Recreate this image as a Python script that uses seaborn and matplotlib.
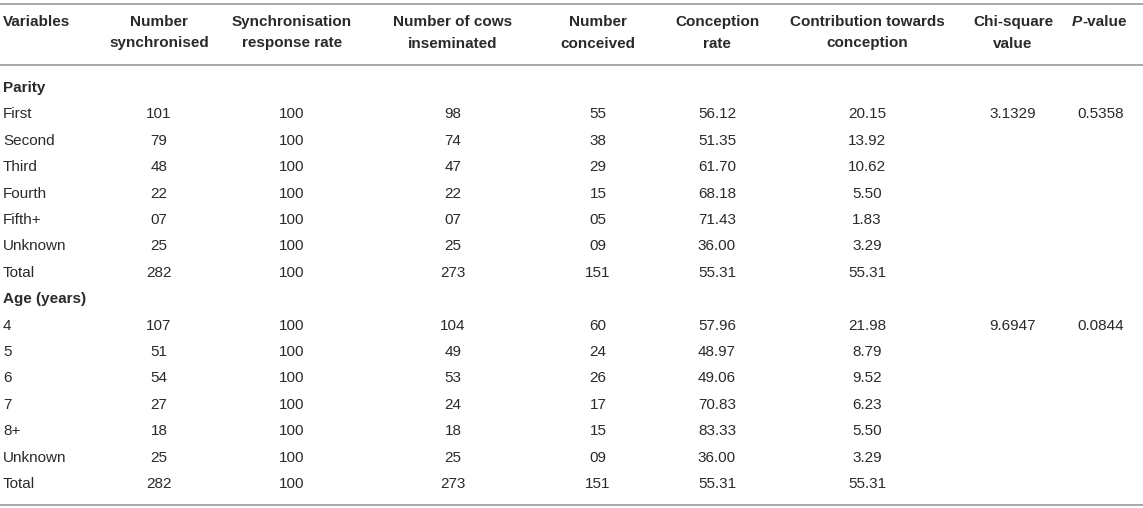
import matplotlib
matplotlib.use("Agg")
import matplotlib.pyplot as plt
import seaborn as sns

# ==============================
# Table data
# ==============================

headers = [
    "Variables",
    "Number\nsynchronised",
    "Synchronisation\nresponse rate",
    "Number of cows\ninseminated",
    "Number\nconceived",
    "Conception\nrate",
    "Contribution towards\nconception",
    "Chi-square\nvalue",
    "P-value",
]

parity_labels = ["First", "Second", "Third", "Fourth", "Fifth+", "Unknown", "Total"]
parity_synchronised = ["101", "79", "48", "22", "07", "25", "282"]
parity_response = ["100", "100", "100", "100", "100", "100", "100"]
parity_inseminated = ["98", "74", "47", "22", "07", "25", "273"]
parity_conceived = ["55", "38", "29", "15", "05", "09", "151"]
parity_conception_rate = ["56.12", "51.35", "61.70", "68.18", "71.43", "36.00", "55.31"]
parity_contribution = ["20.15", "13.92", "10.62", "5.50", "1.83", "3.29", "55.31"]
parity_chi = ["3.1329", "", "", "", "", "", ""]
parity_p = ["0.5358", "", "", "", "", "", ""]

age_labels = ["4", "5", "6", "7", "8+", "Unknown", "Total"]
age_synchronised = ["107", "51", "54", "27", "18", "25", "282"]
age_response = ["100", "100", "100", "100", "100", "100", "100"]
age_inseminated = ["104", "49", "53", "24", "18", "25", "273"]
age_conceived = ["60", "24", "26", "17", "15", "09", "151"]
age_conception_rate = ["57.96", "48.97", "49.06", "70.83", "83.33", "36.00", "55.31"]
age_contribution = ["21.98", "8.79", "9.52", "6.23", "5.50", "3.29", "55.31"]
age_chi = ["9.6947", "", "", "", "", "", ""]
age_p = ["0.0844", "", "", "", "", "", ""]

# ==============================
# Layout
# ==============================

W, H = 1143, 508
col_x = [3, 159, 292, 453, 598, 717, 867, 1013, 1101]
row_step = 26.4
text_color = "#2a2a2a"
line_color = "#a8a8a8"
fs = 11

sns.set_theme(style="white")
plt.rcParams["font.family"] = ["Liberation Sans", "DejaVu Sans"]

fig = plt.figure(figsize=(W / 100, H / 100), dpi=100)
ax = fig.add_axes([0, 0, 1, 1])
ax.set_xlim(0, W)
ax.set_ylim(H, 0)
ax.axis("off")

# rules
for y in [3.5, 65, 505]:
    ax.plot([0, W], [y, y], color=line_color, lw=1.4, solid_capstyle="butt")

# header
for i, h in enumerate(headers):
    ha = "left" if i == 0 else "center"
    if h == "P-value":
        p = ax.text(1072, 22, "P", ha="left", va="center", fontsize=fs,
                    fontweight="bold", fontstyle="italic", color=text_color)
        ax.annotate("-value", xy=(1, 0.5), xycoords=p, ha="left", va="center",
                    fontsize=fs, fontweight="bold", color=text_color)
        continue
    for j, ln in enumerate(h.split("\n")):
        ax.text(col_x[i], 22 + 21.5 * j, ln, ha=ha, va="center",
                fontsize=fs, fontweight="bold", color=text_color)


def draw_block(y0, title, labels, cols):
    ax.text(col_x[0], y0, title, ha="left", va="center",
            fontsize=fs, fontweight="bold", color=text_color)
    for r, lab in enumerate(labels):
        y = y0 + row_step * (r + 1)
        ax.text(col_x[0], y, lab, ha="left", va="center",
                fontsize=fs, color=text_color)
        for c, vals in enumerate(cols):
            ax.text(col_x[c + 1], y, vals[r], ha="center", va="center",
                    fontsize=fs, color=text_color)


draw_block(88, "Parity", parity_labels,
           [parity_synchronised, parity_response, parity_inseminated,
            parity_conceived, parity_conception_rate, parity_contribution,
            parity_chi, parity_p])
draw_block(88 + row_step * 8, "Age (years)", age_labels,
           [age_synchronised, age_response, age_inseminated,
            age_conceived, age_conception_rate, age_contribution,
            age_chi, age_p])

fig.savefig("out.png", dpi=100)
